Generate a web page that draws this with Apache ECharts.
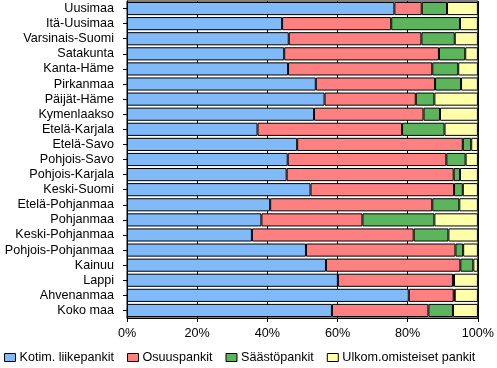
<!DOCTYPE html>
<html><head><meta charset="utf-8">
<script src="https://cdn.jsdelivr.net/npm/echarts@6/dist/echarts.min.js"></script>
<style>html,body{margin:0;padding:0;background:#fff}#c{width:497px;height:368px}</style>
</head><body><div id="c"></div>
<script>
const categories = ["Uusimaa","Itä-Uusimaa","Varsinais-Suomi","Satakunta","Kanta-Häme","Pirkanmaa","Päijät-Häme","Kymenlaakso","Etelä-Karjala","Etelä-Savo","Pohjois-Savo","Pohjois-Karjala","Keski-Suomi","Etelä-Pohjanmaa","Pohjanmaa","Keski-Pohjanmaa","Pohjois-Pohjanmaa","Kainuu","Lappi","Ahvenanmaa","Koko maa"];
const kotim = [76.2,44.2,46.1,44.8,45.9,53.8,56.3,53.3,37.2,48.5,45.8,45.5,52.3,40.8,38.3,35.6,51.0,56.7,60.1,80.3,58.4];
const osuus = [7.8,31.1,37.8,44.1,41.1,34.0,26.0,31.2,41.2,47.2,45.2,47.6,40.9,46.2,28.8,46.1,42.6,38.3,32.8,12.8,27.5];
const saasto = [7.2,19.6,9.5,7.5,7.4,7.4,5.3,4.7,12.1,2.4,5.5,1.8,2.5,7.7,20.5,9.9,2.2,3.7,0.3,0.3,7.0];
const ulkom = [8.8,5.1,6.6,3.6,5.6,4.8,12.4,10.8,9.5,1.9,3.5,5.1,4.3,5.3,12.4,8.4,4.2,1.3,6.8,6.6,7.1];
const seriesNames = ["Kotim. liikepankit","Osuuspankit","Säästöpankit","Ulkom.omisteiset pankit"];
const colors = ["#80BAF8","#FF8080","#5CB55C","#FFFFAA"];
const xTicks = [0,20,40,60,80,100];

const font = "Liberation Sans";
const fs = 12.6;
const chart = echarts.init(document.getElementById('c'));
const dataSets = [kotim, osuus, saasto, ulkom];
chart.setOption({
  animation:false,
  textStyle:{fontFamily:font},
  grid:{left:127,right:16,top:1,bottom:50,show:true,borderColor:'#000',borderWidth:1,backgroundColor:'transparent'},
  xAxis:{type:'value',min:0,max:100,interval:20,
    axisLine:{show:true,lineStyle:{color:'#000',width:1}},
    axisTick:{show:true,length:4,lineStyle:{color:'#000'}},
    axisLabel:{formatter:v=>xTicks.includes(v)?v+'%':'',color:'#000',fontSize:fs,fontFamily:font,margin:9},
    splitLine:{show:true,lineStyle:{color:'#000',width:1}}},
  yAxis:{type:'category',data:categories,inverse:true,
    axisLine:{show:true,lineStyle:{color:'#000',width:1}},
    axisTick:{show:true,length:4,alignWithLabel:true,interval:0,lineStyle:{color:'#000'}},
    axisLabel:{color:'#000',fontSize:fs,fontFamily:font,margin:13,interval:0},
    splitLine:{show:false}},
  legend:{bottom:4,left:4,width:493,itemWidth:11,itemHeight:8,itemGap:13,padding:0,
    textStyle:{color:'#000',fontSize:fs,fontFamily:font,padding:[0,0,0,-1]},
    icon:'rect',
    data:seriesNames.map((n,i)=>({name:n,itemStyle:{color:colors[i],borderColor:'#000',borderWidth:1}}))},
  series:seriesNames.map((n,i)=>({
    name:n,type:'bar',stack:'all',data:dataSets[i],barCategoryGap:'13%',
    itemStyle:{color:colors[i],borderColor:'#000',borderWidth:1},
    emphasis:{disabled:true}
  }))
});
</script></body></html>
